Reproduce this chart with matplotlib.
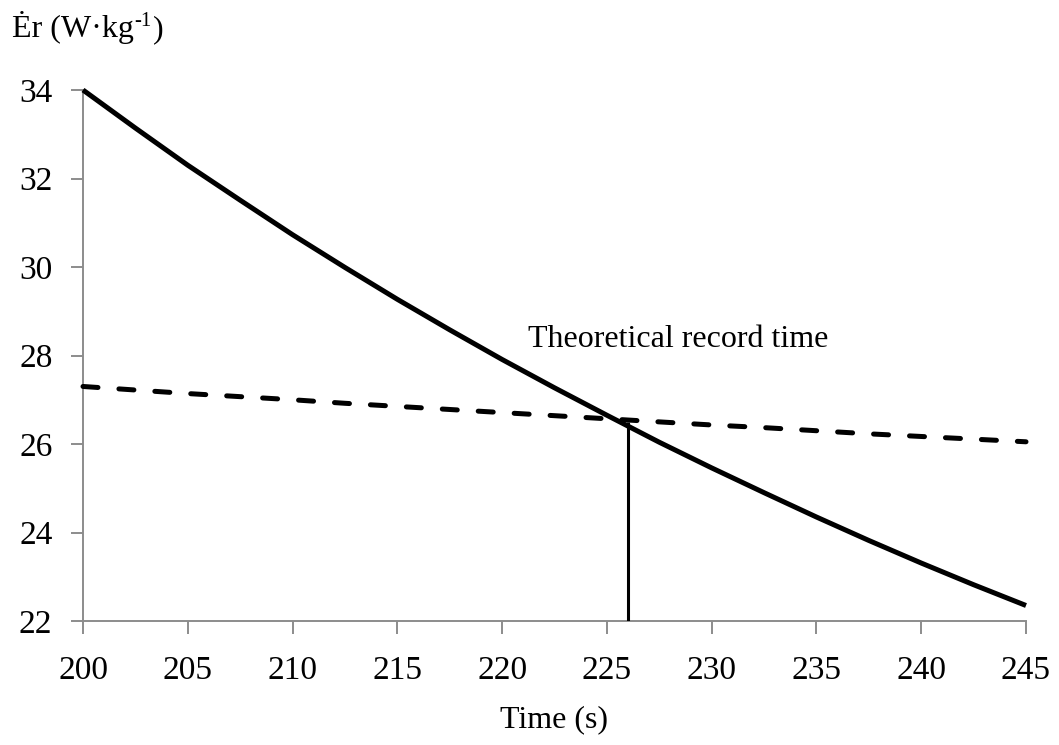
import matplotlib
matplotlib.use("Agg")
import matplotlib.pyplot as plt

# Time axis (s)
time_s = [200, 202.5, 205, 207.5, 210, 212.5, 215, 217.5, 220, 222.5,
          225, 227.5, 230, 232.5, 235, 237.5, 240, 242.5, 245]
# Required energy rate (solid curve), W/kg
er_required = [34.0, 33.14, 32.30, 31.51, 30.73, 29.99, 29.27, 28.58, 27.91, 27.27,
               26.65, 26.04, 25.46, 24.90, 24.35, 23.82, 23.31, 22.82, 22.35]
# Available energy rate (dashed curve), W/kg
er_available = [27.3, 27.22, 27.14, 27.07, 27.0, 26.92, 26.85, 26.78, 26.71, 26.64,
                26.57, 26.50, 26.43, 26.37, 26.30, 26.23, 26.17, 26.11, 26.05]
# Theoretical record time and the rate at the crossing
record_time = 226.0
record_rate = 26.5

x_ticks = [200, 205, 210, 215, 220, 225, 230, 235, 240, 245]
y_ticks = [22, 24, 26, 28, 30, 32, 34]

plt.rcParams['font.family'] = ['Liberation Serif', 'DejaVu Serif']

FS_TICK = 24
FS_TEXT = 23

fig = plt.figure(figsize=(10.59, 7.45), dpi=100)
ax = fig.add_axes([83 / 1059, 1 - 621 / 745, (1026 - 83) / 1059, (621 - 90) / 745])

axis_grey = '#8c8c8c'
ax.plot(time_s, er_required, color='black', lw=3.6, solid_capstyle='butt',
        solid_joinstyle='round', clip_on=False, zorder=3)
dash_line, = ax.plot(time_s, er_available, color='black', lw=3.6, clip_on=False, zorder=3)
dash_line.set_dashes((3.0, 4.2))
dash_line.set_dash_capstyle('round')
ax.plot([record_time, record_time], [y_ticks[0], record_rate], color='black', lw=2.2,
        solid_capstyle='butt', zorder=4)

ax.text(228.4, 28.2, 'Theoretical record time', fontsize=FS_TEXT, ha='center', va='baseline')

ax.set_xlim(x_ticks[0], x_ticks[-1])
ax.set_ylim(y_ticks[0], y_ticks[-1])
ax.set_xticks(x_ticks)
ax.set_yticks(y_ticks)
ax.tick_params(axis='both', direction='out', length=9, width=1.4, color=axis_grey,
               labelsize=FS_TICK)
ax.tick_params(axis='x', pad=16)
ax.tick_params(axis='y', pad=13)

for side in ('top', 'right'):
    ax.spines[side].set_visible(False)
for side in ('left', 'bottom'):
    ax.spines[side].set_color(axis_grey)
    ax.spines[side].set_linewidth(1.4)

fig.text(554 / 1059, 1 - 720 / 745, 'Time (s)', fontsize=FS_TEXT, ha='center', va='center')

# Y-axis title with a raised "-1" exponent
ylab = fig.text(12 / 1059, 1 - 37 / 745, 'Ėr (W·kg', fontsize=FS_TEXT,
                ha='left', va='baseline')
sup = ax.annotate('-1', xy=(1, 0), xycoords=ylab, xytext=(0.5, 9),
                  textcoords='offset points', fontsize=FS_TEXT * 0.65,
                  ha='left', va='bottom', annotation_clip=False)
ax.annotate(')', xy=(1, 0), xycoords=sup, xytext=(0.5, -9),
            textcoords='offset points', fontsize=FS_TEXT,
            ha='left', va='bottom', annotation_clip=False)

fig.savefig('out.png', dpi=100, facecolor='white')
